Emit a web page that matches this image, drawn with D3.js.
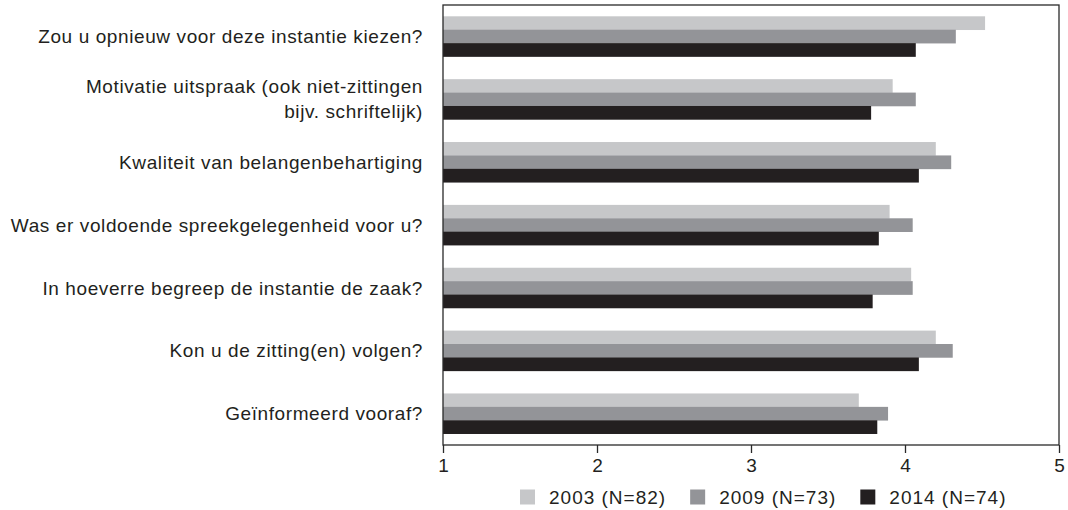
<!DOCTYPE html>
<html>
<head>
<meta charset="utf-8">
<script src="https://cdn.jsdelivr.net/npm/d3@7"></script>
<style>
  html, body { margin: 0; padding: 0; background: #fff; }
  svg { display: block; }
  .cat { font-family: "Liberation Sans", Arial, sans-serif; font-size: 19px; letter-spacing: 0.6px; fill: #231f20; }
  .num { font-family: "Liberation Sans", Arial, sans-serif; font-size: 19px; fill: #231f20; }
  .leg { font-family: "Liberation Sans", Arial, sans-serif; font-size: 19px; letter-spacing: 1px; fill: #231f20; }
</style>
</head>
<body>
<script>
// Survey questions (top to bottom); multi-line labels split with "\n"
const categories = [
  "Zou u opnieuw voor deze instantie kiezen?",
  "Motivatie uitspraak (ook niet-zittingen\nbijv. schriftelijk)",
  "Kwaliteit van belangenbehartiging",
  "Was er voldoende spreekgelegenheid voor u?",
  "In hoeverre begreep de instantie de zaak?",
  "Kon u de zitting(en) volgen?",
  "Geïnformeerd vooraf?"
];
const seriesNames = ["2003 (N=82)", "2009 (N=73)", "2014 (N=74)"];
const values2003 = [4.52, 3.92, 4.20, 3.90, 4.04, 4.20, 3.70];
const values2009 = [4.33, 4.07, 4.30, 4.05, 4.05, 4.31, 3.89];
const values2014 = [4.07, 3.78, 4.09, 3.83, 3.79, 4.09, 3.82];
const xTicks = [1, 2, 3, 4, 5];
const colors = ["#c6c7c9", "#939498", "#231f20"];

const W = 1068, H = 510;
const margin = { top: 5, right: 9, bottom: 65, left: 443 };
const iw = W - margin.left - margin.right;
const ih = H - margin.top - margin.bottom;

const svg = d3.select("body").append("svg").attr("width", W).attr("height", H);
const g = svg.append("g").attr("transform", `translate(${margin.left},${margin.top})`);

const x = d3.scaleLinear().domain([1, 5]).range([0, iw]);
const y0 = d3.scaleBand().domain(d3.range(categories.length)).range([0, ih]).paddingInner(0.36).paddingOuter(0.18);
const y1 = d3.scaleBand().domain(d3.range(seriesNames.length)).range([0, y0.bandwidth()]);

const allSeries = [values2003, values2009, values2014];
const rows = categories.map((c, i) => ({ i, vals: allSeries.map(s => s[i]) }));

const grp = g.selectAll("g.grp").data(rows).join("g")
  .attr("class", "grp")
  .attr("transform", d => `translate(0,${y0(d.i)})`);

grp.selectAll("rect").data(d => d.vals.map((v, k) => ({ v, k }))).join("rect")
  .attr("x", x(1))
  .attr("y", d => y1(d.k))
  .attr("width", d => x(d.v) - x(1))
  .attr("height", y1.bandwidth() + 0.3)
  .attr("fill", d => colors[d.k]);

// Frame around the plot
g.append("rect")
  .attr("x", 0).attr("y", 0).attr("width", iw).attr("height", ih)
  .attr("fill", "none").attr("stroke", "#2a2a2a").attr("stroke-width", 1.3);

// Bottom axis
const xAxis = g.append("g").attr("transform", `translate(0,${ih})`)
  .call(d3.axisBottom(x).tickValues(xTicks).tickSize(8).tickPadding(6).tickFormat(d3.format("d")));
xAxis.select(".domain").remove();
xAxis.selectAll("line").attr("stroke", "#2a2a2a").attr("stroke-width", 1.3);
xAxis.selectAll("text").attr("class", "num").attr("font-family", null).attr("font-size", null).attr("fill", null);

// Category labels
const lineH = 25;
g.selectAll("text.cat").data(rows).join("text")
  .attr("class", "cat")
  .attr("text-anchor", "end")
  .attr("x", -20)
  .each(function(d) {
    const lines = categories[d.i].split("\n");
    const cy = y0(d.i) + y0.bandwidth() / 2;
    const t = d3.select(this);
    lines.forEach((ln, j) => {
      t.append("tspan")
        .attr("x", -20)
        .attr("y", cy + (j - (lines.length - 1) / 2) * lineH)
        .attr("dy", "0.35em")
        .text(ln);
    });
  });

// Legend
const legend = svg.append("g").attr("transform", `translate(520,497)`);
let lx = 0;
seriesNames.forEach((name, k) => {
  const item = legend.append("g").attr("transform", `translate(${lx},0)`);
  item.append("rect").attr("x", 0).attr("y", -7.5).attr("width", 15).attr("height", 15).attr("fill", colors[k]);
  const t = item.append("text").attr("class", "leg").attr("x", 29).attr("y", 0).attr("dy", "0.35em").text(name);
  lx += 29 + t.node().getComputedTextLength() + 24;
});
</script>
</body>
</html>
